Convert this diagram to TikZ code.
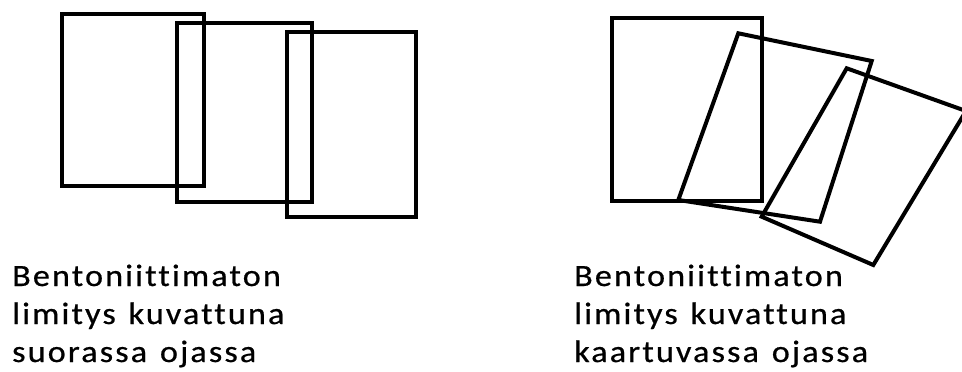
\documentclass[tikz,border=0pt]{standalone}
\usepackage{fontspec}
\setmainfont[FakeStretch=1.1,LetterSpace=7,Ligatures=NoCommon,WordSpace=1.3,FakeBold=0.6]{Carlito}
\begin{document}
\begin{tikzpicture}[x=1pt,y=-1pt,
  sheet/.style={draw=black,line width=4pt,line join=miter},
  caption/.style={anchor=base west,inner sep=0pt,font=\fontsize{31}{38}\selectfont}]
\useasboundingbox (0,0) rectangle (962,372);
\clip (0,0) rectangle (962,372);
% straight ditch
\draw[sheet] (61.7,14) rectangle (204.3,186);
\draw[sheet] (176.7,23.3) rectangle (311.7,201.7);
\draw[sheet] (286.7,32.3) rectangle (416,217);
% curving ditch
\draw[sheet] (612,17.5) rectangle (762,201);
\draw[sheet] (738.3,33.3) -- (871.7,61) -- (820,221.7) -- (678.3,200) -- cycle;
\draw[sheet] (846.7,68.3) -- (966,111) -- (873.3,265) -- (761.7,216.7) -- cycle;
% captions
\node[caption] (l1) at (12,286) {Bentoniittimaton};
\node[caption] (l2) at (12,324) {limitys kuvattuna};
\node[caption] (l3) at (12,362) {suorassa ojassa};
\node[caption] (r1) at (574,286) {Bentoniittimaton};
\node[caption] (r2) at (574,324) {limitys kuvattuna};
\node[caption] (r3) at (574,362) {kaartuvassa ojassa};
\end{tikzpicture}
\end{document}
